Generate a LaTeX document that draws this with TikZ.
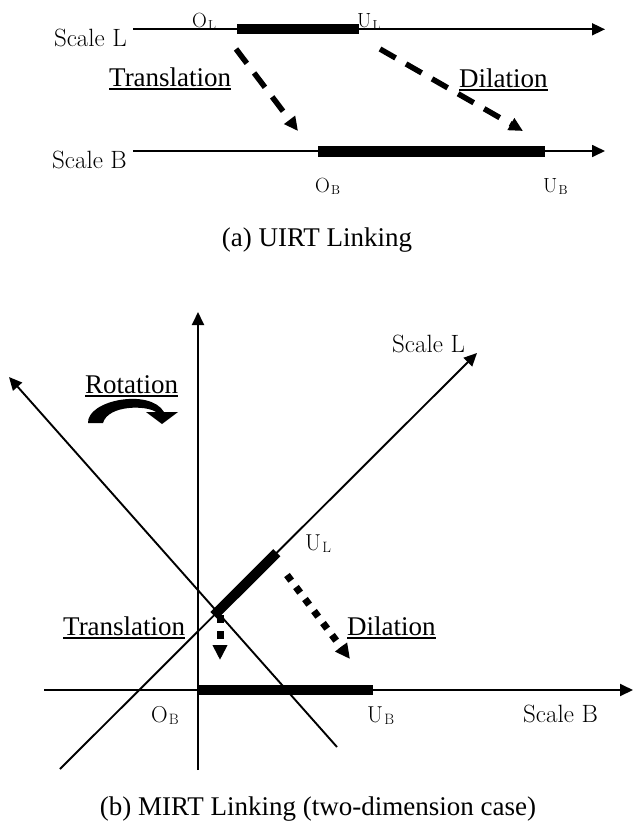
\documentclass[tikz,border=0pt]{standalone}
\usepackage{fontspec}
\newfontfamily\tnr{Liberation Serif}
\usetikzlibrary{arrows.meta,calc}
\newcommand\lmsz[1]{\fontsize{#1}{#1}\selectfont}
\newcommand\subsc[3]{#1\kern1.2pt\raisebox{-2.2pt}{\lmsz{#3}#2}}
\begin{document}
\begin{tikzpicture}[x=1pt,y=-1pt,
  sk/.style={inner sep=0pt, font=\lmsz{25}},
  lbs/.style={inner sep=0pt, font=\lmsz{20.5}},
  lbb/.style={inner sep=0pt, font=\lmsz{23}},
  tx/.style={inner sep=0pt, font=\tnr\lmsz{27}},
  axis/.style={line width=1.7pt, -{Triangle[length=13pt,width=12pt]}},
  bar/.style={line width=10pt},
  dsh/.style={line width=5.5pt, dash pattern=on 18pt off 12pt, -{Triangle[length=14pt,width=13pt]}},
  dsq/.style={line width=7pt, dash pattern=on 8pt off 8pt, -{Triangle[length=15pt,width=14pt]}},
  ul/.style={line width=1.8pt}
]
\useasboundingbox (0,0) rectangle (635,828);
\fill[white] (0,0) rectangle (635,828);

% ---------- (a) UIRT ----------
\coordinate (la) at (133,29.3); \coordinate (lb) at (605,29.3);
\coordinate (ba) at (133,151); \coordinate (bb) at (605,151);
\coordinate (lo) at (237,29.3); \coordinate (lu) at (359,29.3);
\coordinate (bo) at (318,151); \coordinate (bu) at (545,151);
\draw[axis] (la) -- (lb);
\draw[axis] (ba) -- (bb);
\draw[bar] (lo) -- (lu);
\draw[bar,line width=11pt] (bo) -- (bu);

\node[sk, anchor=base east] (tsl) at (127,46) {Scale L};
\node[sk, anchor=base east] (tsb) at (127,168) {Scale B};
\node[lbs, anchor=base west] (tol) at (192,27) {\subsc{O}{L}{13}};
\node[lbs, anchor=base west] (tul) at (357,27) {\subsc{U}{L}{13}};
\node[lbs, anchor=base west] (tob) at (315,192) {\subsc{O}{B}{13}};
\node[lbs, anchor=base west] (tub) at (543,192) {\subsc{U}{B}{13}};

\coordinate (tt0) at (236,49); \coordinate (tt1) at (298,131);
\coordinate (td0) at (380,49); \coordinate (td1) at (523,131);
\draw[dsh] (tt0) -- (tt1);
\draw[dsh] (td0) -- (td1);

\node[tx, anchor=base west] (ttr) at (109,86) {Translation};
\node[tx, anchor=base west] (tdi) at (459,87) {Dilation};
\draw[ul] ([yshift=-3pt]ttr.base west) -- ([yshift=-3pt]ttr.base east);
\draw[ul] ([yshift=-3pt]tdi.base west) -- ([yshift=-3pt]tdi.base east);

\node[tx, anchor=base] (capa) at (317,246) {(a) UIRT Linking};

% ---------- (b) MIRT ----------
\coordinate (va) at (198,770); \coordinate (vb) at (198,312);
\coordinate (ha) at (44,690); \coordinate (hb) at (633,690);
\coordinate (sl0) at (60,769); \coordinate (sl1) at (477,353);
\coordinate (ra) at (337,747); \coordinate (rb) at (9,377);
\draw[axis,line width=1.9pt] (va) -- (vb);
\draw[axis,line width=1.9pt] (ha) -- (hb);
\draw[axis,line width=1.9pt] (sl0) -- (sl1);
\draw[axis,line width=1.9pt] (ra) -- (rb);

\coordinate (hbo) at (198,690); \coordinate (hbu) at (373,690);
\draw[bar] (hbo) -- (hbu);
\coordinate (slo) at ($(sl0)!0.369!(sl1)$);
\coordinate (slu) at ($(sl0)!0.52!(sl1)$);
\draw[bar] (slo) -- (slu);

\coordinate (bt0) at (220,615); \coordinate (bt1) at (220,660);
\coordinate (bd0) at (287,575); \coordinate (bd1) at (350,659);
\draw[dsq] (bt0) -- (bt1);
\draw[dsq, dash pattern=on 7pt off 8pt] (bd0) -- (bd1);

\node[sk, anchor=base west] (bsl) at (392,352) {Scale L};
\node[sk, anchor=base west] (bsb) at (523,722) {Scale B};
\node[lbb, anchor=base west] (bul) at (305,550) {\subsc{U}{L}{15}};
\node[lbb, anchor=base west] (bob) at (151,722) {\subsc{O}{B}{15}};
\node[lbb, anchor=base west] (bub) at (367,722) {\subsc{U}{B}{15}};

\node[tx, anchor=base west] (bro) at (85,393) {Rotation};
\node[tx, anchor=base west] (btr) at (63,635) {Translation};
\node[tx, anchor=base west] (bdi) at (347,635) {Dilation};
\draw[ul] ([yshift=-3pt]bro.base west) -- ([yshift=-3pt]bro.base east);
\draw[ul] ([yshift=-3pt]btr.base west) -- ([yshift=-3pt]btr.base east);
\draw[ul] ([yshift=-3pt]bdi.base west) -- ([yshift=-3pt]bdi.base east);

% curved rotation arrow
\fill (88,423) .. controls (87,400) and (150,388) .. (164,412)
  -- (178,412) -- (162,424) -- (146,412) -- (156,412)
  .. controls (146,405) and (108,405) .. (103,423) -- cycle;

\node[tx, anchor=base] (capb) at (318,815) {(b) MIRT Linking (two-dimension case)};
\end{tikzpicture}
\end{document}
